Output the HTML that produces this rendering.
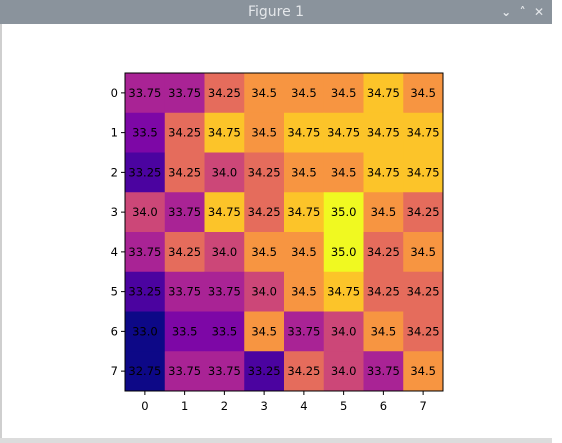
<!DOCTYPE html>
<html><head><meta charset="utf-8"><style>
body{margin:0;width:562px;height:443px;background:#fff;overflow:hidden;position:relative;font-family:"DejaVu Sans","Liberation Sans",sans-serif}
#titlebar{position:absolute;left:0;top:0;width:552px;height:24px;background:#8a939c;color:#e4e7ea;font-size:14px;text-align:center;line-height:24px}
#toolbar{position:absolute;left:0;top:438px;width:552px;height:5px;background:#dcdcdc}
#lborder{position:absolute;left:0;top:24px;width:2px;height:414px;background:#cfcfcf}
</style></head><body>
<div id="titlebar">Figure 1
<span style="position:absolute;right:8px;top:0;font-size:12px;font-weight:bold">⌄ &nbsp;˄ &nbsp;✕</span></div>
<div id="lborder"></div>
<div id="toolbar"></div>
<svg id="chart" width="562" height="443" style="position:absolute;left:0;top:0"></svg>
<script>
const rowLabels=["0","1","2","3","4","5","6","7"];
const colLabels=["0","1","2","3","4","5","6","7"];
const row0=[33.75,33.75,34.25,34.5,34.5,34.5,34.75,34.5];
const row1=[33.5,34.25,34.75,34.5,34.75,34.75,34.75,34.75];
const row2=[33.25,34.25,34.0,34.25,34.5,34.5,34.75,34.75];
const row3=[34.0,33.75,34.75,34.25,34.75,35.0,34.5,34.25];
const row4=[33.75,34.25,34.0,34.5,34.5,35.0,34.25,34.5];
const row5=[33.25,33.75,33.75,34.0,34.5,34.75,34.25,34.25];
const row6=[33.0,33.5,33.5,34.5,33.75,34.0,34.5,34.25];
const row7=[32.75,33.75,33.75,33.25,34.25,34.0,33.75,34.5];
const rows=[row0,row1,row2,row3,row4,row5,row6,row7];
const colorRange=[33.0,35.0];

const svg=document.getElementById('chart');
const NS='http://www.w3.org/2000/svg';
const L=125,T=73,W=318,H=318;
const n=colLabels.length,m=rowLabels.length;
const cw=W/n,ch=H/m;
const vmin=colorRange[0],vmax=colorRange[1];
const stops=["#0d0887","#41049d","#6a00a8","#8f0da4","#b12a90","#cc4778","#e16462","#f2844b","#fca636","#fcce25","#f0f921"];
function hex(h){return[1,3,5].map(i=>parseInt(h.substr(i,2),16));}
function plasma(t){t=Math.max(0,Math.min(1,t));const p=t*10,i=Math.min(9,Math.floor(p)),f=p-i;
 const a=hex(stops[i]),b=hex(stops[i+1]);return 'rgb('+a.map((v,k)=>Math.round(v+(b[k]-v)*f)).join(',')+')';}
const x=j=>L+j*cw, y=i=>T+i*ch;
function mk(tag,attrs){const e=document.createElementNS(NS,tag);for(const k in attrs)e.setAttribute(k,attrs[k]);svg.appendChild(e);return e;}
rows.forEach((r,i)=>r.forEach((v,j)=>{
 const c=mk('rect',{x:x(j),y:y(i),width:cw+0.5,height:ch+0.5,fill:plasma((v-vmin)/(vmax-vmin))});
 
 
 const t=mk('text',{x:x(j)+cw/2,y:y(i)+ch/2+4,'text-anchor':'middle','font-size':'11.5',fill:'#000'});
 t.textContent=String(v%1===0?v.toFixed(1):v);
 
 
}));
const fr=mk('rect',{x:L,y:T,width:W,height:H,fill:'none',stroke:'#000','stroke-width':1});


colLabels.forEach((l,j)=>{
 mk('line',{x1:x(j)+cw/2,x2:x(j)+cw/2,y1:T+H,y2:T+H+4,stroke:'#000'});
 const t=mk('text',{x:x(j)+cw/2,y:T+H+19,'text-anchor':'middle','font-size':'11.5'});t.textContent=l;
 
 
});
rowLabels.forEach((l,i)=>{
 mk('line',{x1:L-4,x2:L,y1:y(i)+ch/2,y2:y(i)+ch/2,stroke:'#000'});
 const t=mk('text',{x:L-7,y:y(i)+ch/2+4,'text-anchor':'end','font-size':'11.5'});t.textContent=l;
 
 
});
</script>
</body></html>
